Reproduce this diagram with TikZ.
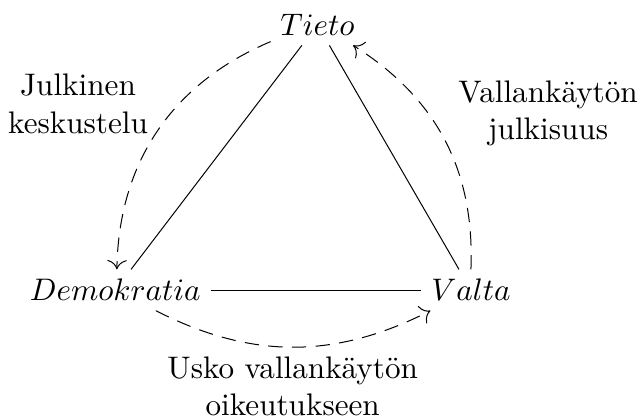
\documentclass[tikz,border=0pt]{standalone}
\usepackage{amsmath}
\usepackage{tikz}
\usetikzlibrary{positioning, arrows.meta}

\tikzset{
    kasite/.style={inner sep=3pt},
    vaikutus/.style={-{To[scale=1.3]}, dash pattern=on 4.6pt off 3pt},
    selite/.style={align=center}
}

\begin{document}
\begin{tikzpicture}[line width=0.32pt]
        \useasboundingbox (0,0) rectangle (7.25,-4.72);
        \node[kasite] (tieto) at (3.58,-0.28) {$Tieto$};
        \node[kasite] (demo) at (1.30,-3.27) {$Demokratia$};
        \node[kasite] (valta) at (5.31,-3.27) {$Valta$};
        \draw (tieto) -- (demo);
        \draw (tieto) -- (valta);
        \draw (demo) -- (valta);
        \draw[vaikutus] (tieto) to[bend right=33] (demo);
        \draw[vaikutus] (demo) to[bend right=27] (valta);
        \draw[vaikutus] (valta) to[bend right=30] (tieto);
        \node[selite] (julk) at (0.88,-1.17) {Julkinen\\keskustelu};
        \node[selite] (julkisuus) at (6.18,-1.28) {Vallank\"ayt\"on\\julkisuus};
        \node[selite] (usko) at (3.30,-4.355) {Usko vallank\"ayt\"on\\oikeutukseen};
    \end{tikzpicture}
\end{document}
